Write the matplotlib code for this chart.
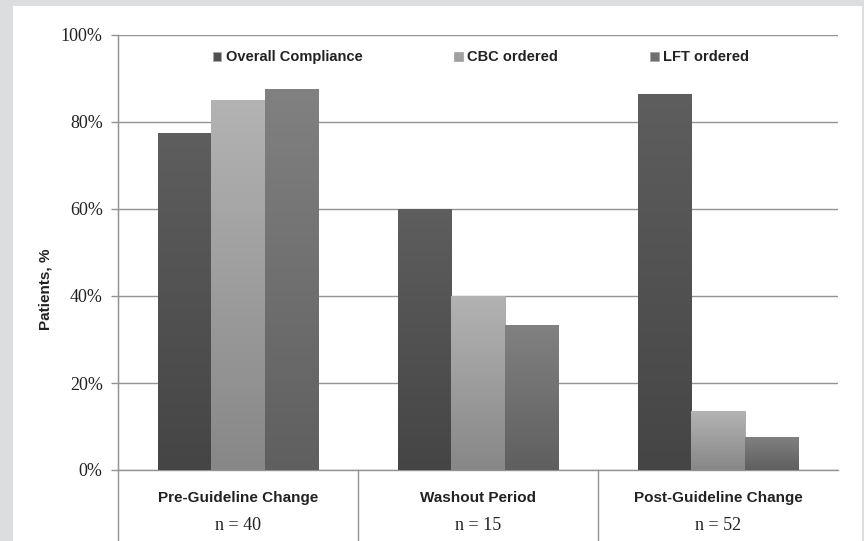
import numpy as np
import matplotlib
matplotlib.use("Agg")
import matplotlib.pyplot as plt
from matplotlib.colors import LinearSegmentedColormap
from matplotlib.lines import Line2D

categories = ["Pre-Guideline Change", "Washout Period", "Post-Guideline Change"]
n_labels = ["n = 40", "n = 15", "n = 52"]
series = ["Overall Compliance", "CBC ordered", "LFT ordered"]
overall = [77.5, 60.0, 86.5]
cbc = [85.0, 40.0, 13.5]
lft = [87.5, 33.3, 7.7]

# gradient (top, bottom) for each series
shades = [("#5e5e5e", "#454545"), ("#b3b3b3", "#878787"), ("#818181", "#5f5f5f")]
legend_colors = ["#505050", "#a0a0a0", "#707070"]

fig = plt.figure(figsize=(8.64, 5.41), dpi=100, facecolor="#dcdddf")
# white panel
fig.patches.append(plt.Rectangle((13 / 864, 0), (862 - 13) / 864, 1 - 6 / 541,
                                 transform=fig.transFigure, facecolor="white",
                                 edgecolor="none", zorder=-1))

ax = fig.add_axes([118 / 864, 1 - 470 / 541, 720 / 864, 435 / 541])
ax.set_facecolor("none")

x = np.arange(len(categories)) + 0.5
w = 2 / 9
grid_c = "#939393"

for i, (vals, name) in enumerate(zip([overall, cbc, lft], series)):
    bars = ax.bar(x + (i - 1) * w, vals, width=w, color=legend_colors[i],
                  edgecolor="#a8a8a8", linewidth=0.6, label=name, zorder=3)
    cmap = LinearSegmentedColormap.from_list("g%d" % i, [shades[i][1], shades[i][0]])
    for b in bars:
        x0, h = b.get_x(), b.get_height()
        grad = np.linspace(0, 1, 256).reshape(-1, 1)
        im = ax.imshow(grad, cmap=cmap, origin="lower", aspect="auto",
                       extent=(x0, x0 + w, 0, h), zorder=3.5)
        im.set_clip_path(b)

ax.set_xlim(0, 3)
ax.set_ylim(0, 100)
ax.set_yticks(np.arange(0, 101, 20))
ax.set_yticklabels(["%d%%" % v for v in range(0, 101, 20)],
                   family="Liberation Serif", fontsize=13, color="#222222")
ax.tick_params(axis="y", direction="out", length=5, color=grid_c, width=1, pad=6)
ax.set_xticks([])
ax.yaxis.grid(True, color=grid_c, linewidth=1)
ax.set_axisbelow(True)
for s in ["top", "right", "bottom"]:
    ax.spines[s].set_visible(False)
ax.spines["left"].set_color(grid_c)

tr = ax.get_xaxis_transform()
ext = -71 / 435
ax.add_line(Line2D([0, 0], [ext, 1], transform=tr, color=grid_c, lw=1, clip_on=False))
ax.add_line(Line2D([0, 3], [0, 0], transform=tr, color=grid_c, lw=1, clip_on=False))
for sep in [1, 2]:
    ax.add_line(Line2D([sep, sep], [ext, 0], transform=tr, color=grid_c, lw=1, clip_on=False))

for xc, cat, nl in zip(x, categories, n_labels):
    ax.text(xc, -28 / 435, cat, transform=tr, ha="center", va="center",
            family="Liberation Sans", fontsize=11, fontweight="bold", color="#222222")
    ax.text(xc, -55 / 435, nl, transform=tr, ha="center", va="center",
            family="Liberation Serif", fontsize=13, color="#222222")

fig.text(46 / 864, 1 - 289 / 541, "Patients, %", rotation=90, ha="center", va="center",
         family="Liberation Sans", fontsize=11, fontweight="bold", color="#222222")

leg = ax.legend(loc="upper center", bbox_to_anchor=(0.504, 0.995), ncol=3, frameon=False,
                prop={"family": "Liberation Sans", "size": 10.5, "weight": "bold"},
                handlelength=0.6, handleheight=0.6, handletextpad=0.3, columnspacing=6.3)
for t in leg.get_texts():
    t.set_color("#222222")

fig.savefig("out.png", dpi=100, facecolor=fig.get_facecolor())
